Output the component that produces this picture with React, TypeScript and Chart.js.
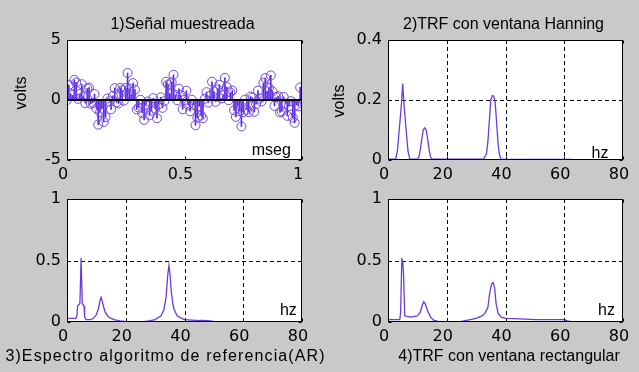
import React, { useEffect, useRef } from "react";
import { Chart, registerables } from "chart.js";

Chart.register(...registerables);

// ---------------- data ----------------
const SAMPLE_RATE = 128; // samples per second, signal spans 0..1

const SIGNAL = [
  0.0, 1.25, 0.53, 0.4, 1.68, 1.46, 0.1, 0.5, 1.32, 0.31, -0.26, 0.95, 1.04, -0.32, -0.23, 0.49,
  -0.71, -2.05, -1.02, -0.72, -1.83, -1.42, 0.12, -0.11, -0.78, 0.34, 0.99, -0.19, -0.29, 1.01, 0.81, -0.04,
  1.0, 2.25, 0.94, 0.47, 1.41, 0.86, -0.79, -0.63, 0.02, -1.08, -1.66, -0.38, -0.13, -1.27, -0.89, 0.15,
  -0.71, -1.52, -0.35, 0.22, -0.65, -0.1, 1.52, 1.29, 0.52, 1.47, 2.1, 0.42, -0.02, 0.94, 0.41, -0.77,
  0.0, 0.77, -0.41, -0.94, 0.02, -0.42, -2.1, -1.47, -0.52, -1.29, -1.52, 0.1, 0.65, -0.22, 0.35, 1.52,
  0.71, -0.15, 0.89, 1.27, 0.13, 0.38, 1.85, 1.08, -0.02, 0.63, 0.79, -0.86, -1.41, -0.47, -0.94, -2.2,
  -1.0, 0.04, -0.81, -1.01, 0.29, 0.19, -0.99, -0.34, 0.78, 0.11, -0.12, 1.42, 1.83, 0.72, 1.02, 2.05,
  0.71, -0.49, 0.23, 0.32, -1.04, -0.95, 0.26, -0.31, -1.32, -0.5, -0.1, -1.46, -1.9, -0.4, -0.53, 1.05,
];

const HANN_FREQ = [0, 2.6, 3.2, 4, 4.6, 5, 5.4, 6, 6.8, 7.4, 10, 10.5, 11, 11.5, 12, 12.5, 13, 13.5, 14, 14.5, 15,
  32.5, 33.5, 34, 34.5, 35, 35.5, 36, 36.5, 37, 37.5, 38, 38.5, 62.5];
const HANN_AMP = [0.003, 0.003, 0.03, 0.12, 0.19, 0.255, 0.19, 0.12, 0.03, 0.003, 0.003, 0.01, 0.035, 0.07, 0.1, 0.107, 0.1, 0.07, 0.035, 0.01, 0.003,
  0.003, 0.02, 0.06, 0.13, 0.2, 0.215, 0.213, 0.19, 0.12, 0.05, 0.015, 0.003, 0.002];

const AR_FREQ = [0, 3, 3.4, 3.6, 4.4, 4.8, 5.2, 5.8, 6, 6.5, 8, 9, 10, 10.7, 11.3, 11.6, 12, 12.5, 13, 14, 15, 16, 18, 20,
  26, 28, 30, 32, 33, 33.7, 34.3, 34.7, 35.1, 35.5, 36, 36.5, 37.5, 39, 40, 45, 48, 50, 55, 60, 63];
const AR_AMP = [0.03, 0.03, 0.05, 0.13, 0.15, 0.52, 0.15, 0.13, 0.04, 0.02, 0.02, 0.03, 0.06, 0.11, 0.18, 0.2, 0.17, 0.12, 0.08, 0.045, 0.03, 0.02, 0.01, 0.003,
  0.003, 0.01, 0.02, 0.05, 0.1, 0.2, 0.38, 0.46, 0.38, 0.25, 0.15, 0.1, 0.05, 0.03, 0.02, 0.012, 0.01, 0.004, 0.003, 0.003, 0.002];

const RECT_FREQ = [0, 4, 4.3, 4.7, 5, 5.3, 5.7, 6.5, 8, 9, 10, 11, 11.7, 12.2, 12.8, 13.5, 14.5, 15.5, 17, 20, 25, 28, 30, 32, 33,
  34, 34.7, 35.3, 35.8, 36.3, 36.8, 37.5, 38.5, 40, 45, 50, 55, 60, 61, 62];
const RECT_AMP = [0.02, 0.02, 0.08, 0.51, 0.5, 0.38, 0.05, 0.045, 0.04, 0.045, 0.05, 0.08, 0.14, 0.165, 0.14, 0.09, 0.04, 0.015, 0.005, 0.003, 0.005, 0.02, 0.03, 0.05, 0.07,
  0.12, 0.25, 0.31, 0.32, 0.28, 0.15, 0.07, 0.04, 0.03, 0.025, 0.02, 0.02, 0.02, 0.01, 0.005];

const TIME_TICKS = [0, 0.5, 1];
const FREQ_TICKS = [0, 20, 40, 60, 80];
const SIGNAL_Y_TICKS = [-5, 0, 5];
const HANN_Y_TICKS = [0, 0.2, 0.4];
const UNIT_Y_TICKS = [0, 0.5, 1];

const TITLES = [
  "1)Señal muestreada",
  "2)TRF con ventana Hanning",
  "3)Espectro algoritmo de referencia(AR)",
  "4)TRF con ventana rectangular",
];
const Y_LABEL = "volts";
const TIME_UNIT = "mseg";
const FREQ_UNIT = "hz";

// ---------------- styles ----------------
const W = 639;
const H = 372;
const BG = "#c9c9c9";
const LINE = "#6a3cd8";
const STEM = "#5a24e6";
const CIRCLE = "#7048e0";
const TEXT_FONT = '16px "Liberation Sans", Arial, sans-serif';
const TICK_FONT = { family: '"DejaVu Sans", sans-serif', size: 16 };

const decor = {
  id: "decor",
  beforeDraw(chart: any) {
    const { ctx, chartArea: a } = chart;
    ctx.save();
    ctx.fillStyle = "#ffffff";
    ctx.fillRect(a.left, a.top, a.right - a.left, a.bottom - a.top);
    ctx.restore();
  },
  beforeDatasetsDraw(chart: any, _args: any, o: any) {
    if (!o.grid) return;
    const { ctx, chartArea: a, scales } = chart;
    ctx.save();
    ctx.strokeStyle = "#000";
    ctx.lineWidth = 1;
    ctx.setLineDash([4, 3]);
    o.xTicks.slice(1, -1).forEach((v: number) => {
      const x = Math.round(scales.x.getPixelForValue(v)) + 0.5;
      ctx.beginPath();
      ctx.moveTo(x, a.top);
      ctx.lineTo(x, a.bottom);
      ctx.stroke();
    });
    o.yTicks.slice(1, -1).forEach((v: number) => {
      const y = Math.round(scales.y.getPixelForValue(v)) + 0.5;
      ctx.beginPath();
      ctx.moveTo(a.left, y);
      ctx.lineTo(a.right, y);
      ctx.stroke();
    });
    ctx.restore();
  },
  afterDatasetsDraw(chart: any, _args: any, o: any) {
    const { ctx, chartArea: a, scales } = chart;
    ctx.save();
    ctx.strokeStyle = "#000";
    ctx.lineWidth = 1;
    ctx.setLineDash([]);
    const L = Math.round(a.left) + 0.5;
    const R = Math.round(a.right) - 0.5;
    const T = Math.round(a.top) + 0.5;
    const B = Math.round(a.bottom) - 0.5;
    ctx.strokeRect(L, T, R - L, B - T);
    const tl = 3;
    ctx.beginPath();
    o.xTicks.forEach((v: number) => {
      const x = Math.round(scales.x.getPixelForValue(v)) + 0.5;
      ctx.moveTo(x, B);
      ctx.lineTo(x, B - tl);
      ctx.moveTo(x, T);
      ctx.lineTo(x, T + tl);
    });
    o.yTicks.forEach((v: number) => {
      const y = Math.round(scales.y.getPixelForValue(v)) + 0.5;
      ctx.moveTo(L, y);
      ctx.lineTo(L + tl, y);
      ctx.moveTo(R, y);
      ctx.lineTo(R - tl, y);
    });
    ctx.stroke();
    ctx.restore();
  },
  afterDraw(chart: any, _args: any, o: any) {
    const { ctx, scales } = chart;
    ctx.save();
    ctx.fillStyle = "#000";
    ctx.font = TEXT_FONT;
    ctx.textBaseline = "alphabetic";
    ctx.textAlign = "center";
    (ctx as any).letterSpacing = `${o.titleSpacing || 0}px`;
    ctx.fillText(o.title, o.titleX, o.titleY);
    (ctx as any).letterSpacing = "0px";
    if (o.ylabel) {
      ctx.save();
      ctx.translate(o.ylabelX, o.ylabelY);
      ctx.rotate(-Math.PI / 2);
      ctx.textBaseline = "middle";
      ctx.fillText(o.ylabel, 0, 0);
      ctx.restore();
    }
    ctx.textAlign = "left";
    ctx.textBaseline = "alphabetic";
    ctx.fillText(o.note, scales.x.getPixelForValue(o.noteX), scales.y.getPixelForValue(o.noteY));
    ctx.restore();
  },
};

const spectrum = (f: number[], v: number[]) => [
  {
    type: "line",
    data: f.map((x, i) => ({ x, y: v[i] })),
    borderColor: LINE,
    borderWidth: 1.3,
    pointRadius: 0,
    tension: 0,
  },
];

const signalPoints = SIGNAL.map((v, i) => ({ x: i / SAMPLE_RATE, y: v }));

const PANELS = [
  {
    area: { left: 67, top: 40, right: 302, bottom: 160 },
    xTicks: TIME_TICKS,
    yTicks: SIGNAL_Y_TICKS,
    datasets: [
      {
        type: "line",
        data: [
          { x: TIME_TICKS[0], y: 0 },
          { x: TIME_TICKS[TIME_TICKS.length - 1], y: 0 },
        ],
        borderColor: "#000",
        borderWidth: 2,
        pointRadius: 0,
        order: 0,
      },
      {
        type: "line",
        data: signalPoints,
        showLine: false,
        pointRadius: 4.5,
        pointStyle: "circle",
        pointBorderColor: CIRCLE,
        pointBackgroundColor: "rgba(0,0,0,0)",
        pointBorderWidth: 1,
        order: 1,
      },
      {
        type: "bar",
        data: signalPoints,
        backgroundColor: STEM,
        barThickness: 1,
        borderWidth: 0,
        order: 2,
      },
    ],
    decor: {
      grid: false,
      title: TITLES[0], titleX: 182.5, titleY: 28.5,
      ylabel: Y_LABEL, ylabelX: 21.5, ylabelY: 93,
      note: TIME_UNIT, noteX: 0.786, noteY: -4.55,
    },
  },
  {
    area: { left: 388, top: 40, right: 623, bottom: 160 },
    xTicks: FREQ_TICKS,
    yTicks: HANN_Y_TICKS,
    datasets: spectrum(HANN_FREQ, HANN_AMP),
    decor: {
      grid: true,
      title: TITLES[1], titleX: 503.5, titleY: 28.5,
      ylabel: Y_LABEL, ylabelX: 340, ylabelY: 101,
      note: FREQ_UNIT, noteX: 69.3, noteY: 0.008,
    },
  },
  {
    area: { left: 67, top: 199, right: 302, bottom: 322 },
    xTicks: FREQ_TICKS,
    yTicks: UNIT_Y_TICKS,
    datasets: spectrum(AR_FREQ, AR_AMP),
    decor: {
      grid: true,
      title: TITLES[2], titleX: 165.5, titleY: 360.5, titleSpacing: 1.1,
      note: FREQ_UNIT, noteX: 72.5, noteY: 0.06,
    },
  },
  {
    area: { left: 388, top: 199, right: 623, bottom: 322 },
    xTicks: FREQ_TICKS,
    yTicks: UNIT_Y_TICKS,
    datasets: spectrum(RECT_FREQ, RECT_AMP),
    decor: {
      grid: true,
      title: TITLES[3], titleX: 509, titleY: 360.5,
      note: FREQ_UNIT, noteX: 71.5, noteY: 0.055,
    },
  },
];

const YW = 60;
const XH = 30;
const fmt = (v: any) => String(v);

function makeChart(canvas: HTMLCanvasElement, p: any) {
  const { area, xTicks, yTicks } = p;
  return new Chart(canvas, {
    type: "line",
    data: { datasets: p.datasets },
    options: {
      responsive: false,
      animation: false,
      events: [],
      layout: {
        padding: {
          left: area.left - YW,
          right: W - area.right,
          top: area.top,
          bottom: H - area.bottom - XH,
        },
      },
      plugins: {
        legend: { display: false },
        tooltip: { enabled: false },
        title: { display: false },
        decor: { ...p.decor, xTicks, yTicks },
      } as any,
      scales: {
        x: {
          type: "linear",
          min: xTicks[0],
          max: xTicks[xTicks.length - 1],
          offset: false,
          grid: { display: false, drawTicks: false },
          border: { display: false },
          ticks: {
            padding: 5,
            labelOffset: -4,
            color: "#000",
            font: TICK_FONT,
            maxRotation: 0,
            autoSkip: false,
            callback: fmt,
          },
          afterBuildTicks: (s: any) => {
            s.ticks = xTicks.map((v: number) => ({ value: v }));
          },
          afterFit: (s: any) => {
            s.height = XH;
            s.paddingLeft = 0;
            s.paddingRight = 0;
          },
        },
        y: {
          type: "linear",
          min: yTicks[0],
          max: yTicks[yTicks.length - 1],
          grid: { display: false, drawTicks: false },
          border: { display: false },
          ticks: {
            padding: 6,
            color: "#000",
            font: TICK_FONT,
            autoSkip: false,
            callback: fmt,
          },
          afterBuildTicks: (s: any) => {
            s.ticks = yTicks.map((v: number) => ({ value: v }));
          },
          afterFit: (s: any) => {
            s.width = YW;
            s.paddingTop = 0;
            s.paddingBottom = 0;
          },
        },
      },
    } as any,
    plugins: [decor as any],
  } as any);
}

function Panel({ p }: { p: any }) {
  const ref = useRef<HTMLCanvasElement | null>(null);
  useEffect(() => {
    if (!ref.current) return;
    const chart = makeChart(ref.current, p);
    return () => chart.destroy();
  }, [p]);
  return (
    <canvas
      ref={ref}
      width={W}
      height={H}
      style={{ position: "absolute", left: 0, top: 0, width: W, height: H }}
    />
  );
}

export default function App() {
  return (
    <div
      style={{
        position: "fixed",
        left: 0,
        top: 0,
        width: W,
        height: H,
        background: BG,
        overflow: "hidden",
      }}
    >
      {PANELS.map((p, i) => (
        <Panel key={i} p={p} />
      ))}
    </div>
  );
}
